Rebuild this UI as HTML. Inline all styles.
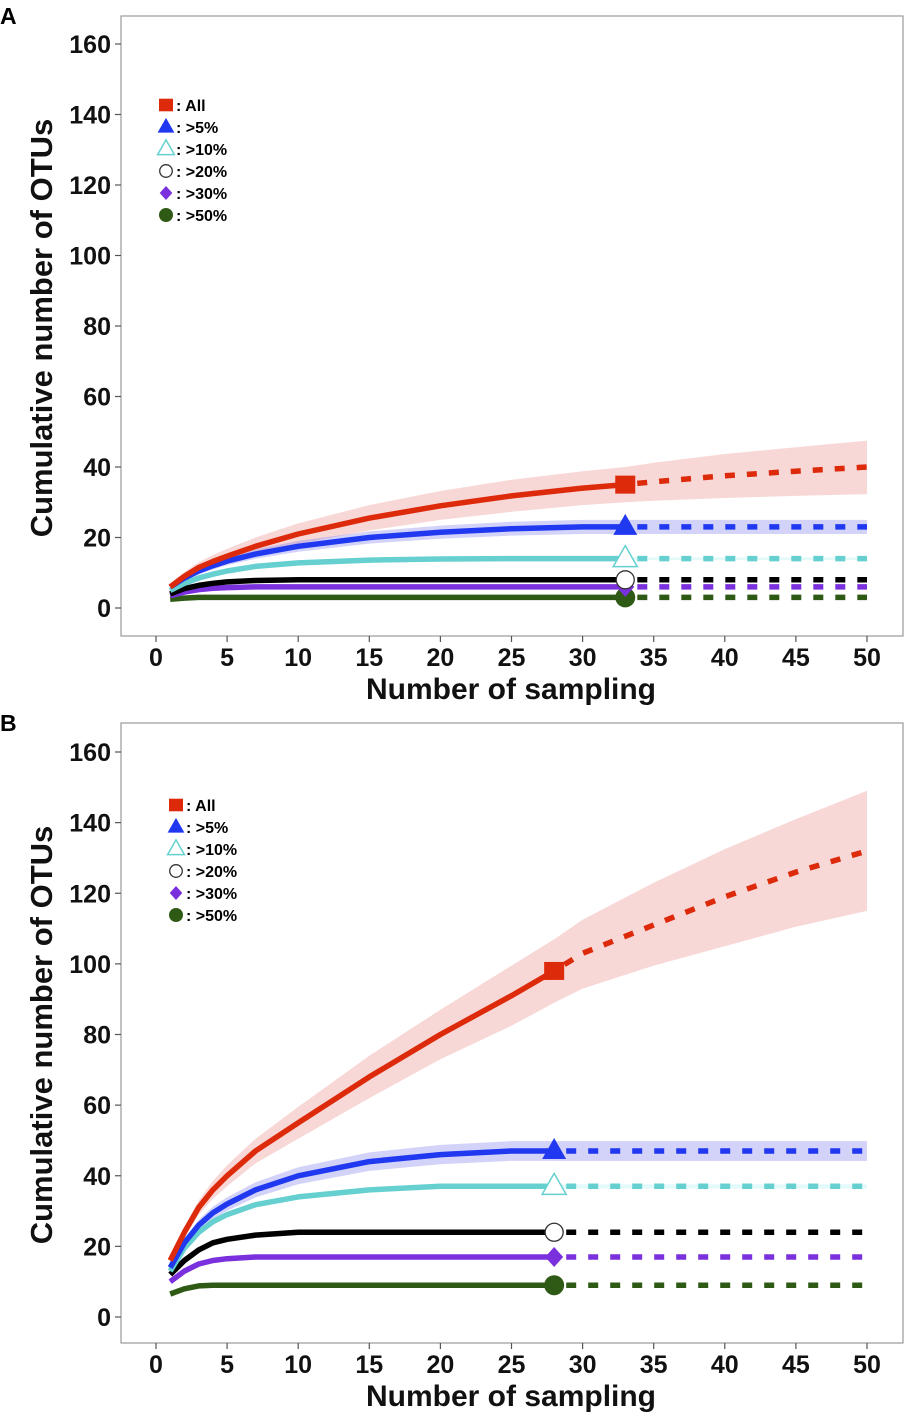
<!DOCTYPE html>
<html><head><meta charset="utf-8"><style>
html,body{margin:0;padding:0;background:#fff}
svg{display:block;font-family:"Liberation Sans",Arial,sans-serif}
</style></head><body>
<svg id="chart" width="908" height="1417" viewBox="0 0 908 1417"></svg>
<script>
// ---------- DATA ----------
const xTicks=[0,5,10,15,20,25,30,35,40,45,50];
const yTicks=[0,20,40,60,80,100,120,140,160];
const seriesNames=["All",">5%",">10%",">20%",">30%",">50%"];
// Panel A
const aX=[1,2,3,4,5,7,10,15,20,25,30,33];
const aAll=[6,9,11.5,13.2,14.7,17.5,21,25.5,29,31.8,34,35];
const a5=[6,8.5,10.5,12,13.3,15.3,17.5,20,21.5,22.5,23,23];
const a10=[5,7,8.5,9.6,10.5,11.8,12.8,13.6,13.9,14,14,14];
const a20=[4,5.5,6.4,7,7.4,7.8,8,8,8,8,8,8];
const a30=[3.5,4.5,5.2,5.6,5.8,6,6,6,6,6,6,6];
const a50=[2.5,2.8,3,3,3,3,3,3,3,3,3,3];
const aAllLo=[5,7.8,10,11.5,12.8,15.2,18.2,22,25,27.3,29.2,30];
const aAllHi=[7,10.2,13,15,16.8,20,24,29.2,33.2,36.4,38.8,40];
const aExtX=[33,35,40,45,50];
const aAllExt=[35,35.8,37.5,38.8,40];
const aAllExtLo=[30,30.4,31.2,31.8,32.3];
const aAllExtHi=[40,41.2,43.7,45.6,47.5];
const aPlateau=[23,14,8,6,3];
const aPlateauBand=[2,0.4,0,0,0];
// Panel B
const bX=[1,2,3,4,5,7,10,15,20,25,28];
const bAll=[16,24,31,36,40,47,55,68,80,91,98];
const b5=[14,21,26,29.5,32,36,40,44,46,47,47];
const b10=[13,19.5,24,27,29,31.8,34,36,37,37,37];
const b20=[12,16,19,21,22,23.2,24,24,24,24,24];
const b30=[10,13,15,16,16.5,17,17,17,17,17,17];
const b50=[6.5,8,8.8,9,9,9,9,9,9,9,9];
const bAllLo=[15,22.5,29,33.5,37,43.5,50.5,62,73,82.5,89];
const bAllHi=[17,25.5,33,38.5,43,50.5,59.5,74,87,99.5,107];
const bExtX=[28,30,35,40,45,50];
const bAllExt=[98,103,111,119,126,132];
const bAllExtLo=[89,93,99.5,105,110.5,115];
const bAllExtHi=[107,112.5,123,132.5,141,149];
const bPlateau=[47,37,24,17,9];
const bPlateauBand=[2.8,0.6,0,0,0];

const colors=["#dd2a0a","#1f38f0","#66d0d0","#000000","#7a30dc","#2f5a16"];
const bandColors=["rgba(230,110,110,0.28)","rgba(110,110,240,0.3)","rgba(120,230,230,0.2)"];

const NS="http://www.w3.org/2000/svg";
const svg=document.getElementById('chart');
function mk(tag,attrs,parent){const e=document.createElementNS(NS,tag);for(const k in attrs)e.setAttribute(k,attrs[k]);(parent||svg).appendChild(e);return e;}

function panel(p){
  const g=mk('g',{});
  
  
  const X=v=>156+v*(867-156)/50;
  const Y=v=>p.y0-v*(p.y0-p.y160)/160;
  const box=mk('rect',{x:121,y:p.top,width:782,height:620,fill:'#fff',stroke:'#999','stroke-width':1.2},g);
  
  
  xTicks.forEach(t=>{
    mk('line',{x1:X(t),x2:X(t),y1:p.top+620,y2:p.top+626,stroke:'#555','stroke-width':1.2},g);
    const tx=mk('text',{x:X(t),y:p.top+650,'text-anchor':'middle','font-size':25,'font-weight':'bold',fill:'#111'},g);
    tx.textContent=t;
    
    
  });
  yTicks.forEach(t=>{
    mk('line',{x1:115,x2:121,y1:Y(t),y2:Y(t),stroke:'#555','stroke-width':1.2},g);
    const tx=mk('text',{x:111,y:Y(t)+9,'text-anchor':'end','font-size':25,'font-weight':'bold',fill:'#111'},g);
    tx.textContent=t;
    
    
  });
  const xt=mk('text',{x:511,y:p.top+683,'text-anchor':'middle','font-size':30,'font-weight':'bold',fill:'#111'},g);
  xt.textContent='Number of sampling';
  
  
  const cy=p.top+312;
  const yt=mk('text',{x:52,y:cy,'text-anchor':'middle','font-size':31,'font-weight':'bold',fill:'#111',transform:`rotate(-90 52 ${cy})`},g);
  yt.textContent='Cumulative number of OTUs';
  
  
  const lt=mk('text',{x:0,y:p.top+8,'font-size':23,'font-weight':'bold',fill:'#000'},g);
  lt.textContent=p.letter;
  
  

  const pts=(xs,ys)=>xs.map((x,i)=>X(x).toFixed(1)+','+Y(ys[i]).toFixed(1)).join(' ');
  const bandPts=(xs,lo,hi)=>pts(xs,hi)+' '+pts(xs.slice().reverse(),lo.slice().reverse());
  const xe=p.xs[p.xs.length-1];
  const b1=mk('polygon',{points:bandPts(p.xs,p.lo,p.hi),fill:bandColors[0]},g);
  
  
  const b2=mk('polygon',{points:bandPts(p.extX,p.extLo,p.extHi),fill:bandColors[0]},g);
  
  
  for(let k=0;k<2;k++){
    const v=p.plateau[k],d=p.pband[k];
    const s=p.series[k+1];
    const lo=s.map(q=>q-d*Math.min(1,q/v)),hi=s.map(q=>q+d*Math.min(1,q/v));
    const bb=mk('polygon',{points:bandPts(p.xs,lo,hi),fill:bandColors[k+1]},g);
    
    
    const be=mk('rect',{x:X(xe),y:Y(v+d),width:X(50)-X(xe),height:Y(v-d)-Y(v+d),fill:bandColors[k+1]},g);
    
    
  }
  for(let k=5;k>=0;k--){
    const l=mk('polyline',{points:pts(p.xs,p.series[k]),fill:'none',stroke:colors[k],'stroke-width':5.5,'stroke-linejoin':'round'},g);
    
    
    let ex,ey;
    if(k===0){ex=p.extX;ey=p.ext;}else{ex=[xe,50];ey=[p.plateau[k-1],p.plateau[k-1]];}
    const d=mk('polyline',{points:pts(ex,ey),fill:'none',stroke:colors[k],'stroke-width':5.5,'stroke-dasharray':'10 12','stroke-dashoffset':-12},g);
    
    
    const m=marker(k,X(xe),Y(p.series[k][p.series[k].length-1]),1,g);
    
    
  }
  seriesNames.forEach((n,k)=>{
    const yy=p.legY+k*22;
    const m=marker(k,p.legX,yy,0.7,g);
    
    
    const t=mk('text',{x:p.legX+10,y:yy+6,'font-size':16,'font-weight':'bold',fill:'#000'},g);
    t.textContent=': '+n;
    
    
  });
}
function marker(k,x,y,s,g){
  const c=colors[k];let e;
  if(k===0)e=mk('rect',{x:x-10*s,y:y-9*s,width:20*s,height:18*s,fill:c},g);
  else if(k===1)e=mk('polygon',{points:`${x},${y-13*s} ${x+12*s},${y+8*s} ${x-12*s},${y+8*s}`,fill:c},g);
  else if(k===2)e=mk('polygon',{points:`${x},${y-13*s} ${x+12*s},${y+8*s} ${x-12*s},${y+8*s}`,fill:'#fff',stroke:c,'stroke-width':1.5},g);
  else if(k===3)e=mk('circle',{cx:x,cy:y,r:9*s,fill:'#fff',stroke:'#333','stroke-width':1.3},g);
  else if(k===4)e=mk('polygon',{points:`${x},${y-10*s} ${x+9*s},${y} ${x},${y+10*s} ${x-9*s},${y}`,fill:c},g);
  else e=mk('circle',{cx:x,cy:y,r:10*s,fill:c},g);
  return e;
}
panel({name:'panel-a',letter:'A',top:16,y0:608,y160:44,xs:aX,series:[aAll,a5,a10,a20,a30,a50],lo:aAllLo,hi:aAllHi,extX:aExtX,ext:aAllExt,extLo:aAllExtLo,extHi:aAllExtHi,plateau:aPlateau,pband:aPlateauBand,legX:166,legY:105});
panel({name:'panel-b',letter:'B',top:723,y0:1317,y160:752,xs:bX,series:[bAll,b5,b10,b20,b30,b50],lo:bAllLo,hi:bAllHi,extX:bExtX,ext:bAllExt,extLo:bAllExtLo,extHi:bAllExtHi,plateau:bPlateau,pband:bPlateauBand,legX:176,legY:805});
</script>
</body></html>
